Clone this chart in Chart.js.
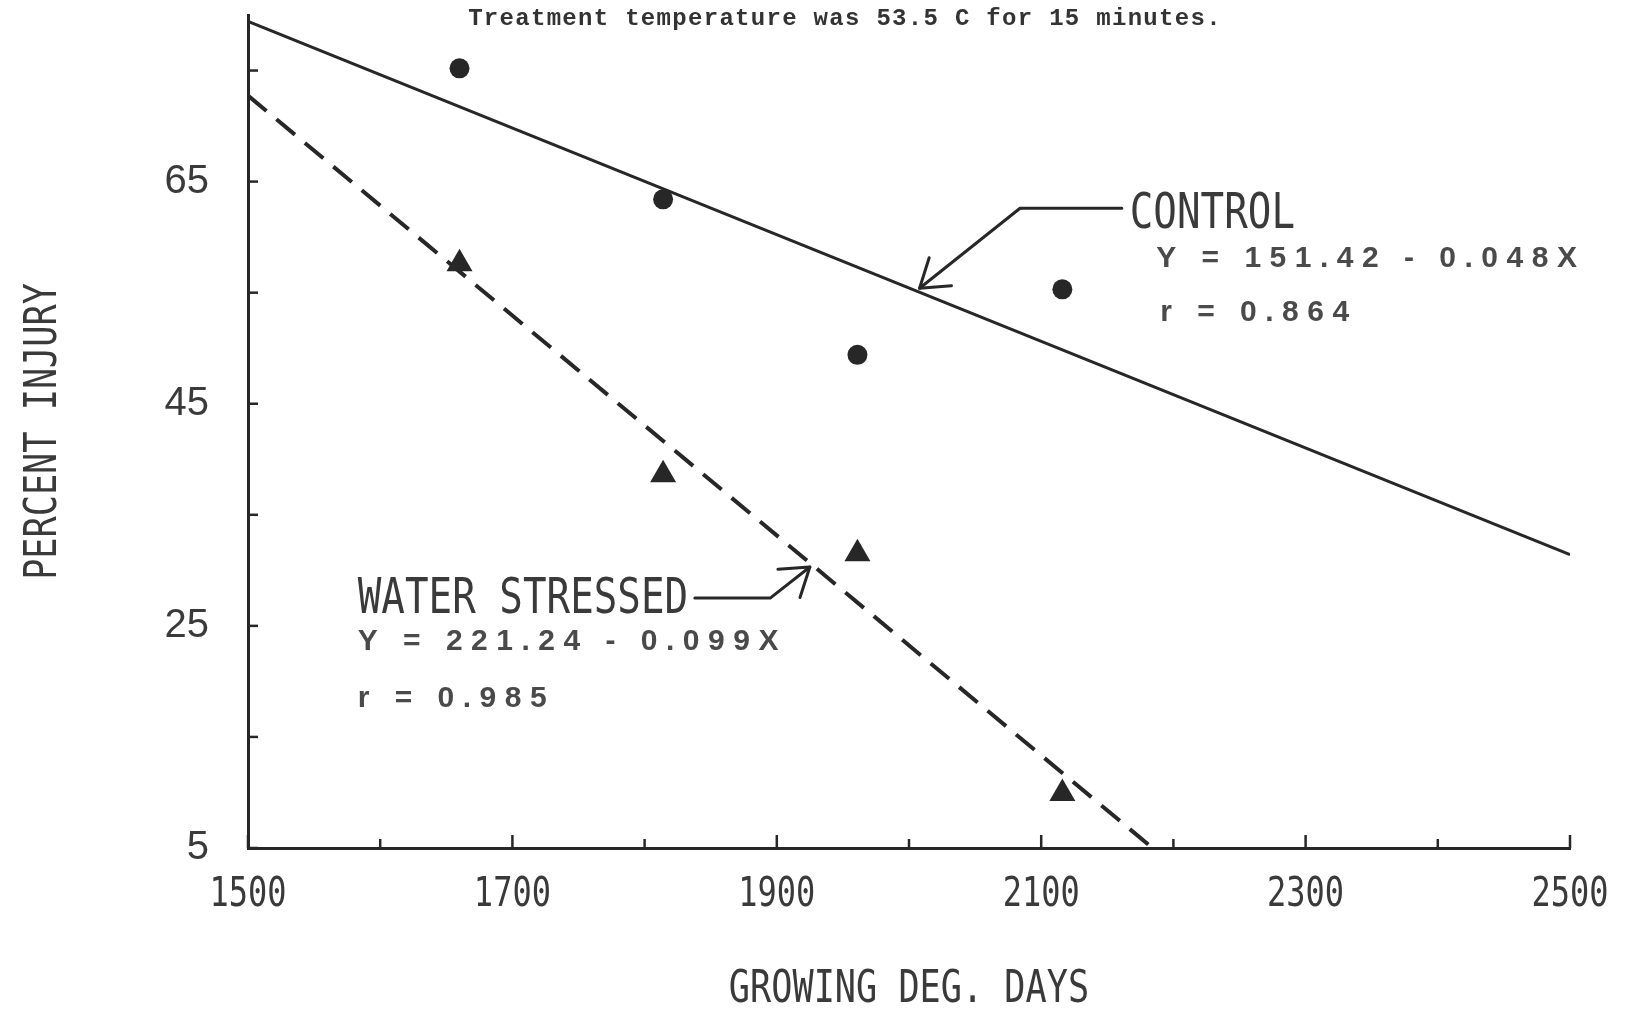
<!DOCTYPE html>
<html>
<head>
<meta charset="utf-8">
<title>Percent injury vs growing degree days</title>
<script src="https://cdn.jsdelivr.net/npm/chart.js@4.4.1/dist/chart.umd.min.js"></script>
<style>
  html, body { margin: 0; padding: 0; background: #ffffff; }
  #wrap { width: 1636px; height: 1015px; }
  canvas { display: block; }
</style>
</head>
<body>
<div id="wrap"><canvas id="chart" width="1636" height="1015"></canvas></div>
<script>
// ---- data ----
// growing degree days at each sampling date
const growingDegDays = [1660, 1814, 1961, 2116];
// percent injury of control plants
const controlInjury = [75.2, 63.4, 49.4, 55.3];
// percent injury of water-stressed plants
const stressedInjury = [57.6, 38.6, 31.5, 9.9];

// fitted regressions, Y = intercept - slope * X
const controlFit = [151.42, 0.048];
const stressedFit = [221.24, 0.099];
const controlR = [0.864];
const stressedR = [0.985];

// axes
const xRange = [1500, 2500];
const yRange = [5, 80];
const xTickValues = [1500, 1600, 1700, 1800, 1900, 2000, 2100, 2200, 2300, 2400, 2500];
const xTickLabels = ['1500', '', '1700', '', '1900', '', '2100', '', '2300', '', '2500'];
const yTickValues = [5, 15, 25, 35, 45, 55, 65, 75];
const yTickLabels = ['5', '', '25', '', '45', '', '65', ''];

// callout arrows (data units), the last point is the arrow tip
const controlArrow = [[2161, 62.6], [2084, 62.6], [2008, 55.4]];
const stressedArrow = [[1838, 27.5], [1895, 27.5], [1925, 30.3]];
// text anchors (data units, left edge / baseline)
const controlLabelAt = [2167, 60.8];
const controlEqAt = [2187, 57.35];
const controlRAt = [2190, 52.45];
const stressedLabelAt = [1583, 26.2];
const stressedEqAt = [1583, 22.8];
const stressedRAt = [1583, 17.7];

const captionText = 'Treatment temperature was 53.5 C for 15 minutes.';

// ---- styles ----
const INK = '#272727';
const TEXT = '#3a3a3a';
const EQ_TEXT = '#4a4a4a';
const PLOTTER = '"DejaVu Sans Mono"';
const SQUEEZE = 0.8;

const fitLine = (fit, x0, x1) => [
  { x: x0, y: fit[0] - fit[1] * x0 },
  { x: x1, y: fit[0] - fit[1] * x1 }
];
const eqText = fit => `Y = ${fit[0].toFixed(2)} - ${fit[1].toFixed(3)}X`;
const rText = r => `r = ${r[0].toFixed(3)}`;

// the plotter lettering is narrow: squeeze any text set in the plotter face
const narrowLettering = {
  id: 'narrowLettering',
  beforeInit(chart) {
    const ctx = chart.ctx;
    const rawFill = ctx.fillText;
    ctx.fillText = function (text, x, y) {
      if (this.font.indexOf('DejaVu Sans Mono') < 0) return rawFill.call(this, text, x, y);
      this.save();
      this.translate(x, y);
      this.scale(SQUEEZE, 1);
      rawFill.call(this, text, 0, 0);
      this.restore();
    };
  }
};

// tick marks point into the plot
const inwardTicks = {
  id: 'inwardTicks',
  afterDatasetsDraw(chart) {
    const { ctx, chartArea, scales } = chart;
    ctx.save();
    ctx.strokeStyle = INK;
    ctx.lineWidth = 2.5;
    scales.x.ticks.forEach(t => {
      const p = scales.x.getPixelForValue(t.value);
      const len = xTickLabels[xTickValues.indexOf(t.value)] ? 13 : 9;
      ctx.beginPath();
      ctx.moveTo(p, chartArea.bottom);
      ctx.lineTo(p, chartArea.bottom - len);
      ctx.stroke();
    });
    scales.y.ticks.forEach(t => {
      const p = scales.y.getPixelForValue(t.value);
      ctx.beginPath();
      ctx.moveTo(chartArea.left, p);
      ctx.lineTo(chartArea.left + 10, p);
      ctx.stroke();
    });
    ctx.restore();
  }
};

const callouts = {
  id: 'callouts',
  afterDatasetsDraw(chart) {
    const { ctx, scales } = chart;
    const px = v => scales.x.getPixelForValue(v);
    const py = v => scales.y.getPixelForValue(v);

    ctx.save();
    ctx.strokeStyle = INK;
    ctx.lineWidth = 3;
    ctx.lineJoin = 'round';
    ctx.lineCap = 'round';
    [controlArrow, stressedArrow].forEach(path => {
      const pts = path.map(p => [px(p[0]), py(p[1])]);
      ctx.beginPath();
      pts.forEach((p, i) => (i ? ctx.lineTo(p[0], p[1]) : ctx.moveTo(p[0], p[1])));
      ctx.stroke();
      const tip = pts[pts.length - 1];
      const prev = pts[pts.length - 2];
      const back = Math.atan2(prev[1] - tip[1], prev[0] - tip[0]);
      const spread = 34 * Math.PI / 180;
      const len = 32;
      ctx.beginPath();
      ctx.moveTo(tip[0] + len * Math.cos(back - spread), tip[1] + len * Math.sin(back - spread));
      ctx.lineTo(tip[0], tip[1]);
      ctx.lineTo(tip[0] + len * Math.cos(back + spread), tip[1] + len * Math.sin(back + spread));
      ctx.stroke();
    });

    ctx.fillStyle = TEXT;
    ctx.textAlign = 'left';
    ctx.textBaseline = 'alphabetic';
    ctx.font = '49px ' + PLOTTER;
    ctx.fillText('CONTROL', px(controlLabelAt[0]), py(controlLabelAt[1]));
    ctx.fillText('WATER STRESSED', px(stressedLabelAt[0]), py(stressedLabelAt[1]));

    ctx.fillStyle = EQ_TEXT;
    ctx.font = 'bold 30px "Liberation Sans"';
    ctx.letterSpacing = '8.5px';
    ctx.fillText(eqText(controlFit), px(controlEqAt[0]), py(controlEqAt[1]));
    ctx.fillText(rText(controlR), px(controlRAt[0]), py(controlRAt[1]));
    ctx.fillText(eqText(stressedFit), px(stressedEqAt[0]), py(stressedEqAt[1]));
    ctx.fillText(rText(stressedR), px(stressedRAt[0]), py(stressedRAt[1]));
    ctx.restore();
  },
  afterDraw(chart) {
    const ctx = chart.ctx;
    ctx.save();
    ctx.fillStyle = '#333333';
    ctx.font = 'bold 24px "Liberation Mono"';
    ctx.letterSpacing = '1.3px';
    ctx.textAlign = 'center';
    ctx.textBaseline = 'alphabetic';
    ctx.fillText(captionText, 845, 25);
    ctx.restore();
  }
};

const stressedEndX = (stressedFit[0] - yRange[0]) / stressedFit[1];

new Chart(document.getElementById('chart'), {
  type: 'scatter',
  data: {
    datasets: [
      {
        label: 'Control',
        data: growingDegDays.map((x, i) => ({ x, y: controlInjury[i] })),
        pointStyle: 'circle',
        pointRadius: 10,
        borderWidth: 0,
        backgroundColor: INK,
        borderColor: INK
      },
      {
        label: 'Water stressed',
        data: growingDegDays.map((x, i) => ({ x, y: stressedInjury[i] })),
        pointStyle: 'triangle',
        pointRadius: 15,
        borderWidth: 0,
        backgroundColor: INK,
        borderColor: INK
      },
      {
        type: 'line',
        label: 'Control regression',
        data: fitLine(controlFit, xRange[0], xRange[1]),
        borderColor: INK,
        borderWidth: 3,
        pointRadius: 0,
        fill: false
      },
      {
        type: 'line',
        label: 'Water stressed regression',
        data: fitLine(stressedFit, xRange[0], stressedEndX),
        borderColor: INK,
        borderWidth: 4,
        borderDash: [24, 13],
        pointRadius: 0,
        fill: false
      }
    ]
  },
  options: {
    responsive: false,
    animation: false,
    devicePixelRatio: 1,
    layout: { padding: { top: 13, right: 66, bottom: 0, left: 0 } },
    plugins: {
      legend: { display: false },
      tooltip: { enabled: false },
      title: { display: false }
    },
    scales: {
      x: {
        type: 'linear',
        position: 'bottom',
        min: xRange[0],
        max: xRange[1],
        afterFit(s) {
          s.height = 167;
          s.paddingLeft = 0;
          s.paddingRight = 0;
        },
        afterBuildTicks(s) { s.ticks = xTickValues.map(v => ({ value: v })); },
        ticks: {
          autoSkip: false,
          maxRotation: 0,
          minRotation: 0,
          padding: 24,
          color: TEXT,
          font: { family: PLOTTER, size: 40 },
          callback: v => xTickLabels[xTickValues.indexOf(v)]
        },
        grid: { display: false, drawTicks: false },
        border: { display: true, color: INK, width: 3 },
        title: {
          display: true,
          text: 'GROWING DEG. DAYS',
          color: TEXT,
          font: { family: PLOTTER, size: 44 },
          padding: { top: 0, bottom: -2 }
        }
      },
      y: {
        type: 'linear',
        min: yRange[0],
        max: yRange[1],
        afterFit(s) {
          s.width = 248;
          s.paddingTop = 0;
          s.paddingBottom = 0;
        },
        afterBuildTicks(s) { s.ticks = yTickValues.map(v => ({ value: v })); },
        ticks: {
          autoSkip: false,
          padding: 39,
          color: TEXT,
          font: { family: '"Liberation Sans"', size: 40 },
          callback: v => yTickLabels[yTickValues.indexOf(v)]
        },
        grid: { display: false, drawTicks: false },
        border: { display: true, color: INK, width: 3 },
        title: {
          display: true,
          text: 'PERCENT INJURY',
          color: TEXT,
          font: { family: PLOTTER, size: 44 },
          padding: 18
        }
      }
    }
  },
  plugins: [narrowLettering, inwardTicks, callouts]
});
</script>
</body>
</html>
